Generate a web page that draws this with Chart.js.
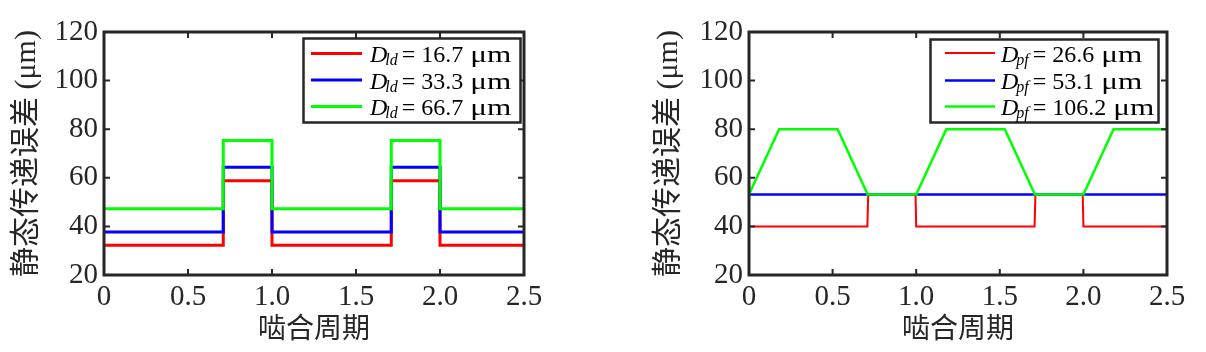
<!DOCTYPE html>
<html><head><meta charset="utf-8">
<script src="https://cdn.jsdelivr.net/npm/chart.js@4.4.1/dist/chart.umd.min.js"></script>
<style>
html,body{margin:0;padding:0;background:#fff;width:1206px;height:352px;overflow:hidden;}
.box{position:absolute;top:0;height:352px;}
#w1{left:0;width:603px;}
#w2{left:645px;width:561px;}
</style></head><body>
<div class="box" id="w1"><canvas id="c1"></canvas></div>
<div class="box" id="w2"><canvas id="c2"></canvas></div>
<script>
// ---- data ----
const xTicks = [0, 0.5, 1, 1.5, 2, 2.5];
const yTicks = [20, 40, 60, 80, 100, 120];
const xTitle = '啮合周期';
const yTitle = '静态传递误差 (μm)';

// left chart (D_ld)
const leftX   = [0, 0.71, 0.71, 1.0, 1.0, 1.71, 1.71, 2.0, 2.0, 2.5];
const ld167   = [32.2, 32.2, 58.8, 58.8, 32.2, 32.2, 58.8, 58.8, 32.2, 32.2];
const ld333   = [37.7, 37.7, 64.3, 64.3, 37.7, 37.7, 64.3, 64.3, 37.7, 37.7];
const ld667   = [47.3, 47.3, 75.4, 75.4, 47.3, 47.3, 75.4, 75.4, 47.3, 47.3];
const leftLegendValues = ['16.7', '33.3', '66.7'];

// right chart (D_pf)
const redX    = [0, 0.708, 0.713, 0.996, 1.0, 1.708, 1.713, 1.996, 2.0, 2.5];
const pf266   = [40, 40, 53.1, 53.1, 40, 40, 53.1, 53.1, 40, 40];
const blueX   = [0, 2.5];
const pf531   = [53.1, 53.1];
const greenX  = [0, 0.18, 0.53, 0.71, 1.0, 1.18, 1.53, 1.71, 2.0, 2.18, 2.5];
const pf1062  = [53.1, 80, 80, 53.1, 53.1, 80, 80, 53.1, 53.1, 80, 80];
const rightLegendValues = ['26.6', '53.1', '106.2'];

const colors = ['#ff0000', '#0000ff', '#00ff00'];
const INK = '#262626';
const SERIF = "'Liberation Serif', 'Times New Roman', serif";

function pts(xs, ys) { return xs.map((x, i) => ({x: x, y: ys[i]})); }

// ---- plugins ----
const framePlugin = {
  id: 'frame',
  afterDatasetsDraw(chart) {
    const {ctx, chartArea: a, scales} = chart;
    ctx.save();
    ctx.strokeStyle = INK;
    ctx.lineWidth = 2;
    ctx.beginPath();
    xTicks.forEach(v => {
      const px = scales.x.getPixelForValue(v);
      ctx.moveTo(px, a.bottom); ctx.lineTo(px, a.bottom - 6);
      ctx.moveTo(px, a.top); ctx.lineTo(px, a.top + 6);
    });
    yTicks.forEach(v => {
      const py = scales.y.getPixelForValue(v);
      ctx.moveTo(a.left, py); ctx.lineTo(a.left + 6, py);
      ctx.moveTo(a.right, py); ctx.lineTo(a.right - 6, py);
    });
    ctx.stroke();
    ctx.lineWidth = 3;
    ctx.strokeRect(a.left, a.top, a.right - a.left, a.bottom - a.top);
    ctx.restore();
  }
};

const legendPlugin = {
  id: 'mlegend',
  afterDraw(chart, args, o) {
    const ctx = chart.ctx;
    ctx.save();
    ctx.fillStyle = '#fff';
    ctx.fillRect(o.left, o.top, o.right - o.left, o.bottom - o.top);
    ctx.strokeStyle = INK;
    ctx.lineWidth = 2.5;
    ctx.strokeRect(o.left, o.top, o.right - o.left, o.bottom - o.top);
    chart.data.datasets.forEach((ds, i) => {
      const y = o.rows[i];
      ctx.strokeStyle = ds.borderColor;
      ctx.lineWidth = ds.borderWidth;
      ctx.beginPath(); ctx.moveTo(o.lineX0, y); ctx.lineTo(o.lineX1, y); ctx.stroke();
      const base = y + 8.5;
      let x = o.textX;
      ctx.fillStyle = '#000';
      ctx.textAlign = 'left';
      ctx.textBaseline = 'alphabetic';
      ctx.font = 'italic 24px ' + SERIF;
      ctx.fillText('D', x, base); x += ctx.measureText('D').width - 2;
      ctx.font = 'italic 16px ' + SERIF;
      ctx.fillText(ds.sub, x, base + 3); x += ctx.measureText(ds.sub).width + 4;
      ctx.font = '24px ' + SERIF;
      ctx.fillText('=', x, base); x += ctx.measureText('=').width + 6;
      ctx.fillText(ds.val, x, base); x += ctx.measureText(ds.val).width + 7;
      ctx.save(); ctx.translate(x, base); ctx.scale(1.3, 1); ctx.fillText('μm', 0, 0); ctx.restore();
    });
    ctx.restore();
  }
};

Chart.defaults.font.family = SERIF;
Chart.defaults.color = INK;
Chart.defaults.animation = false;

function makeChart(id, datasets, legendOpts, padRight, yTitlePad) {
  return new Chart(document.getElementById(id), {
    type: 'line',
    data: {datasets: datasets},
    options: {
      responsive: true,
      maintainAspectRatio: false,
      animation: false,
      layout: {padding: {left: 0, top: 32, right: padRight, bottom: 0}},
      elements: {point: {radius: 0}, line: {tension: 0, borderCapStyle: 'butt', borderJoinStyle: 'miter'}},
      plugins: {legend: {display: false}, tooltip: {enabled: false}, mlegend: legendOpts},
      scales: {
        x: {
          type: 'linear', min: 0, max: 2.5,
          grid: {display: false, drawTicks: false}, border: {display: false},
          afterBuildTicks: s => { s.ticks = xTicks.map(v => ({value: v})); },
          afterFit: s => { s.height = 77; },
          ticks: {padding: 5, font: {size: 29, family: SERIF}, color: INK, maxRotation: 0, autoSkip: false},
          title: {display: true, text: xTitle, color: INK, padding: {top: 0, bottom: 5},
                  font: {size: 28, family: "'Liberation Serif','Noto Sans CJK SC'"}}
        },
        y: {
          type: 'linear', min: 20, max: 120,
          grid: {display: false, drawTicks: false}, border: {display: false},
          afterBuildTicks: s => { s.ticks = yTicks.map(v => ({value: v})); },
          afterFit: s => { s.width = 104; },
          ticks: {padding: 6, font: {size: 29, family: SERIF}, color: INK, autoSkip: false},
          title: {display: true, text: yTitle, color: INK, padding: {top: yTitlePad, bottom: 0},
                  font: {size: 30, family: "'Liberation Serif','Noto Sans CJK SC'"}}
        }
      }
    },
    plugins: [framePlugin, legendPlugin]
  });
}

makeChart('c1', [
  {label: 'D_ld = 16.7 μm', sub: 'ld', val: leftLegendValues[0], data: pts(leftX, ld167), borderColor: colors[0], borderWidth: 3, order: 3},
  {label: 'D_ld = 33.3 μm', sub: 'ld', val: leftLegendValues[1], data: pts(leftX, ld333), borderColor: colors[1], borderWidth: 3, order: 2},
  {label: 'D_ld = 66.7 μm', sub: 'ld', val: leftLegendValues[2], data: pts(leftX, ld667), borderColor: colors[2], borderWidth: 3, order: 1}
], {left: 303.5, top: 38.5, right: 520.5, bottom: 122.5, rows: [53.5, 80, 106.5], lineX0: 311, lineX1: 362, textX: 370}, 79, 9);

makeChart('c2', [
  {label: 'D_pf = 26.6 μm', sub: 'pf', val: rightLegendValues[0], data: pts(redX, pf266), borderColor: colors[0], borderWidth: 2, order: 3},
  {label: 'D_pf = 53.1 μm', sub: 'pf', val: rightLegendValues[1], data: pts(blueX, pf531), borderColor: colors[1], borderWidth: 2.5, order: 2},
  {label: 'D_pf = 106.2 μm', sub: 'pf', val: rightLegendValues[2], data: pts(greenX, pf1062), borderColor: colors[2], borderWidth: 2.5, order: 1}
], {left: 285.5, top: 39.5, right: 513.5, bottom: 122.5, rows: [53, 80.5, 106.5], lineX0: 300, lineX1: 350, textX: 356}, 39, 6);
</script>
</body></html>
